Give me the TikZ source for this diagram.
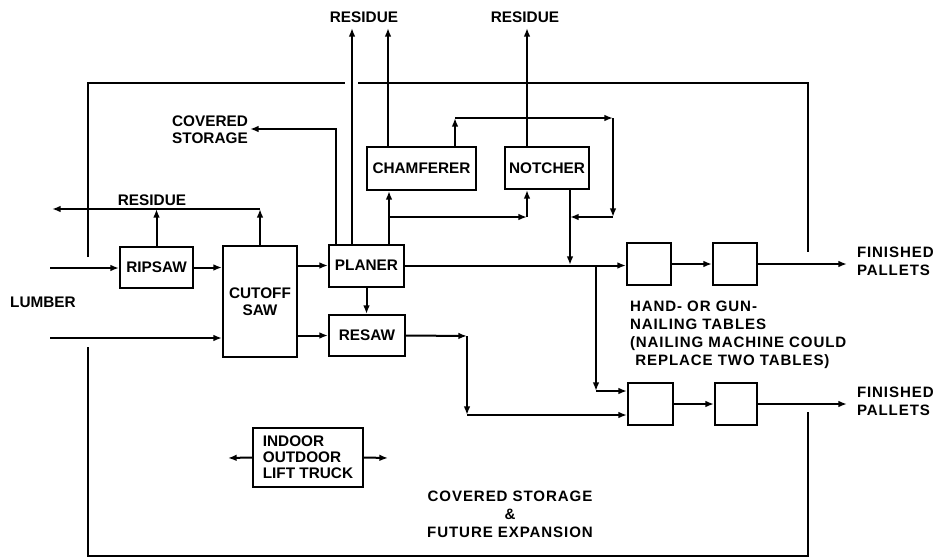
\documentclass[tikz,border=0pt]{standalone}
\usepackage{fontspec}
\setmainfont{Liberation Sans}
\newfontfamily\notefont[LetterSpace=6,UprightFont={* Bold}]{Liberation Sans}
\usetikzlibrary{arrows.meta}
\begin{document}
\begin{tikzpicture}[x=0.75pt,y=-0.75pt,line width=1.5pt,
  box/.style={draw,rectangle,inner sep=0pt,align=center,font=\bfseries\fontsize{11.5}{13}\selectfont},
  arr/.style={-{Latex[length=6.5pt,width=5pt]}},
  lbl/.style={inner sep=0pt,align=center,font=\bfseries\fontsize{11.5}{13}\selectfont},
  note/.style={inner sep=0pt,font=\notefont\fontsize{11.3}{13.5}\selectfont}]
\useasboundingbox (0,0) rectangle (935,560);
% building walls
\draw (88,257) -- (88,83) -- (345,83);
\draw (358,83) -- (808,83) -- (808,252);
\draw (808,412) -- (808,556) -- (88,556) -- (88,347);
% boxes
\node[box,minimum width=73*0.75pt,minimum height=41*0.75pt] (ripsaw) at (156.5,267.5) {RIPSAW};
\node[box,minimum width=74*0.75pt,minimum height=111*0.75pt] (cutoff) at (260,301.5) {CUTOFF\\SAW};
\node[box,minimum width=75*0.75pt,minimum height=42*0.75pt] (planer) at (366.5,265.5) {PLANER};
\node[box,minimum width=76*0.75pt,minimum height=41*0.75pt] (resaw) at (367,335.5) {RESAW};
\node[box,minimum width=109*0.75pt,minimum height=43*0.75pt] (chamf) at (421.5,168.5) {CHAMFERER};
\node[box,minimum width=84*0.75pt,minimum height=42*0.75pt] (notcher) at (547,168) {NOTCHER};
\node[box,minimum width=44*0.75pt,minimum height=42*0.75pt] (t1) at (649,264) {};
\node[box,minimum width=44*0.75pt,minimum height=42*0.75pt] (t2) at (735,264) {};
\node[box,minimum width=45*0.75pt,minimum height=42*0.75pt] (t3) at (650.5,404) {};
\node[box,minimum width=42*0.75pt,minimum height=42*0.75pt] (t4) at (736,404) {};
\node[box,minimum width=110*0.75pt,minimum height=59*0.75pt,align=left,font=\bfseries\fontsize{11.5}{12}\selectfont] (truck) at (308,457.5) {INDOOR\\OUTDOOR\\LIFT TRUCK};
% labels
\node[lbl] (lumber) at (43,302) {LUMBER};
\node[lbl] (resleft) at (152,200) {RESIDUE};
\node[lbl] (covst) at (210,130) {COVERED\\STORAGE};
\node[lbl] (restop1) at (364,17) {RESIDUE};
\node[lbl] (restop2) at (525,17) {RESIDUE};
\node[note,anchor=west,align=left] (fin1) at (856,261) {FINISHED\\PALLETS};
\node[note,anchor=west,align=left] (fin2) at (856,401) {FINISHED\\PALLETS};
\node[note,anchor=north west,align=left] (nailing) at (629,300) {HAND- OR GUN-\\NAILING TABLES\\(NAILING MACHINE COULD\\\hspace{4pt}REPLACE TWO TABLES)};
\node[note,align=center] (future) at (510,514) {COVERED STORAGE\\\&\\FUTURE EXPANSION};
% free ends
\coordinate (lum1) at (50,268);
\coordinate (lum2) at (50,338);
\coordinate (resL) at (52,209);
\coordinate (csA) at (250,129);
\coordinate (rt1) at (352,28);
\coordinate (rt2) at (388,28);
\coordinate (rt3) at (527,28);
\coordinate (br) at (389,217);
\coordinate (brn) at (527,217);
\coordinate (by1) at (455,118);
\coordinate (by2) at (613,118);
\coordinate (by3) at (613,217);
\coordinate (by4) at (570,217);
\coordinate (mj) at (570,265);
\coordinate (dj) at (596,265);
\coordinate (dk) at (596,391);
\coordinate (rs1) at (467,336);
\coordinate (rs2) at (467,415);
\coordinate (fp1) at (847,264);
\coordinate (fp2) at (847,404);
\coordinate (trL) at (228,458);
\coordinate (trR) at (388,458);
% connectors
\draw[arr] (lum1) -- (lum1 -| ripsaw.west);
\draw[arr] (lum2) -- (lum2 -| cutoff.west);
\draw[arr] (ripsaw.east) -- (ripsaw.east -| cutoff.west);
\draw[arr] (ripsaw.north) -- (ripsaw.north |- resL);
\draw[arr] (cutoff.north) -- (cutoff.north |- resL);
\draw[arr] (cutoff.north |- resL) -- (resL);
\draw[arr] (cutoff.east |- planer.west) -- (planer.west);
\draw[arr] (cutoff.east |- resaw.west) -- (resaw.west);
\draw[arr] (planer.south) -- (planer.south |- resaw.north);
\draw[arr] (planer.north -| 336,0) |- (csA);
\draw[arr] (planer.north -| rt1) -- (rt1);
\draw[arr] (planer.north -| br) -- (chamf.south -| br);
\draw[arr] (br) -- (brn);
\draw[arr] (brn) -- (notcher.south -| brn);
\draw[arr] (chamf.north -| rt2) -- (rt2);
\draw[arr] (chamf.north -| by1) -- (by1);
\draw[arr] (by1) -- (by2);
\draw[arr] (by2) -- (by3);
\draw[arr] (by3) -- (by4);
\draw[arr] (notcher.north -| rt3) -- (rt3);
\draw[arr] (notcher.south -| by4) -- (mj);
\draw[arr] (planer.east) -- (planer.east -| t1.west);
\draw[arr] (dj) -- (dk);
\draw[arr] (dk) -- (dk -| t3.west);
\draw[arr] (resaw.east) -- (rs1);
\draw[arr] (rs1) -- (rs2);
\draw[arr] (rs2) -- (rs2 -| t3.west);
\draw[arr] (t1) -- (t2);
\draw[arr] (t2) -- (fp1);
\draw[arr] (t3.east |- t4.west) -- (t4.west);
\draw[arr] (t4) -- (fp2);
\draw[arr] (truck.west) -- (trL);
\draw[arr] (truck.east) -- (trR);
\end{tikzpicture}
\end{document}
